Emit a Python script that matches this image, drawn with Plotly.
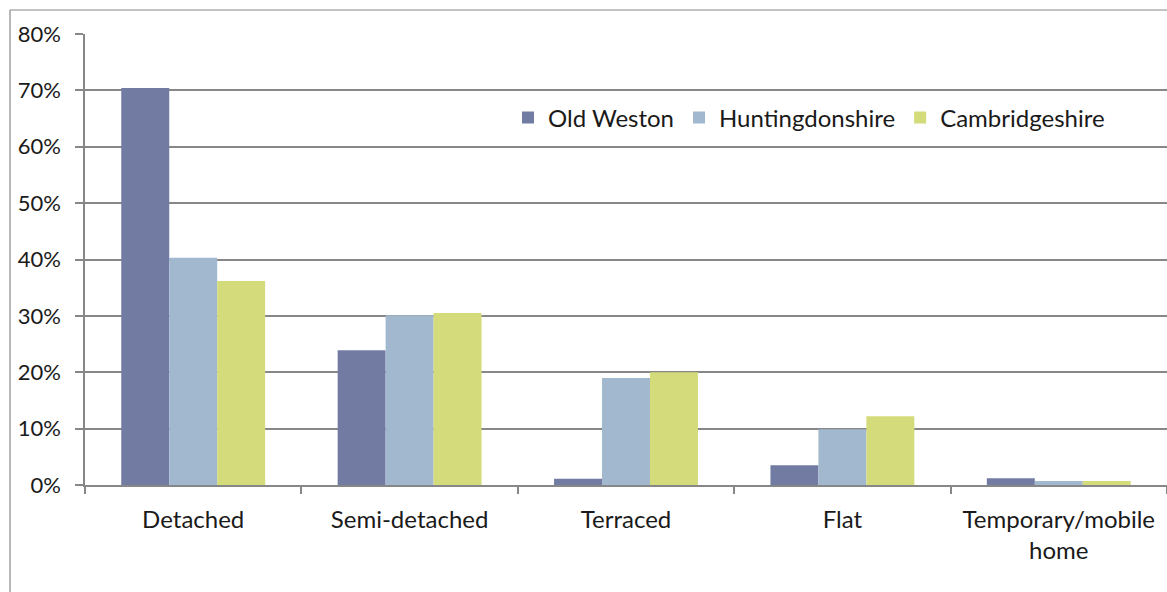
import plotly.graph_objects as go

# Dwelling types and share of households by area
categories = ["Detached", "Semi-detached", "Terraced", "Flat", "Temporary/mobile<br>home"]
old_weston = [0.704, 0.239, 0.011, 0.035, 0.012]
huntingdonshire = [0.403, 0.301, 0.190, 0.099, 0.007]
cambridgeshire = [0.362, 0.305, 0.200, 0.122, 0.007]
y_ticks = [0, 0.1, 0.2, 0.3, 0.4, 0.5, 0.6, 0.7, 0.8]

W, H = 1167, 592
M_L, M_R, M_T, M_B = 85, 0, 34, 107
GREY = "#878787"
FONT = "Lato, Carlito, 'Open Sans', sans-serif"

fig = go.Figure()
for name, vals, col in [
    ("Old Weston", old_weston, "#727CA3"),
    ("Huntingdonshire", huntingdonshire, "#A2B8CE"),
    ("Cambridgeshire", cambridgeshire, "#D4DB7B"),
]:
    fig.add_trace(go.Bar(x=categories, y=vals, name=name, marker_color=col,
                         marker_line_width=0))

# outer chart border (left and top edges)
pw, ph = W - M_L - M_R, H - M_T - M_B
px = lambda p: (p - M_L) / pw
py = lambda p: (H - M_B - p) / ph
fig.add_shape(type="line", xref="paper", yref="paper",
              x0=px(10), x1=px(10), y0=py(10), y1=py(H + 5),
              line=dict(color=GREY, width=1.2))
fig.add_shape(type="line", xref="paper", yref="paper",
              x0=px(10), x1=px(W + 5), y0=py(10), y1=py(10),
              line=dict(color=GREY, width=1.2))

fig.update_layout(
    width=W, height=H,
    margin=dict(l=M_L, r=M_R, t=M_T, b=M_B),
    paper_bgcolor="white", plot_bgcolor="white",
    barmode="group", bargap=0.335, bargroupgap=0,
    font=dict(family=FONT, size=20, color="#1a1a1a"),
    legend=dict(orientation="h", x=px(508), xanchor="left", y=py(118), yanchor="middle",
                font=dict(size=24), bgcolor="rgba(0,0,0,0)", traceorder="normal",
                itemwidth=30),
    showlegend=True,
)
fig.update_xaxes(
    type="category", range=[-0.5, 4.5],
    showline=True, linecolor=GREY, linewidth=1.5,
    ticks="outside", tickson="boundaries", ticklen=7, tickcolor=GREY, tickwidth=1.5,
    showgrid=False, tickangle=0, ticklabelstandoff=12, tickfont=dict(size=24),
)
fig.update_yaxes(
    range=[0, 0.8], tickvals=y_ticks, tickformat=".0%",
    showline=True, linecolor=GREY, linewidth=1.5,
    ticks="outside", ticklen=8, tickcolor=GREY, tickwidth=1.5,
    showgrid=True, gridcolor=GREY, gridwidth=1.5, zeroline=False,
    ticklabelstandoff=10, tickfont=dict(size=22),
)

fig.write_html("out.html")
